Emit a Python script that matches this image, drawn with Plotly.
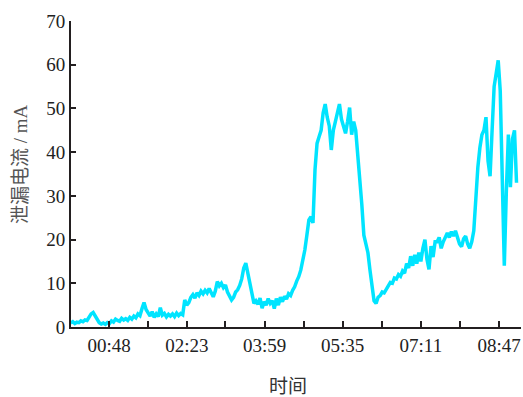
import numpy as np
import plotly.graph_objects as go

# Leakage current (mA), sampled every 2.5 minutes starting at minute 1
leak = [
    0.9, 1.2, 0.8, 1.1, 1.0, 1.4, 1.2, 1.6, 1.5, 2.2,
    3.0, 3.3, 2.4, 1.6, 1.0, 0.7, 0.9, 0.6, 1.0, 0.8,
    1.4, 1.1, 1.8, 1.5, 1.3, 2.0, 1.6, 1.9, 1.5, 2.2,
    1.8, 2.5, 2.1, 3.0, 2.6, 4.2, 5.6, 4.0, 3.2, 2.5,
    3.5, 2.2, 3.0, 2.4, 4.4, 2.7, 3.1, 2.3, 2.9, 2.5,
    3.0, 2.4, 3.2, 2.6, 3.1, 2.8, 6.2, 5.0, 5.6, 6.8,
    7.4, 6.6, 7.8, 7.2, 8.2, 7.6, 8.4, 7.8, 8.8, 7.6,
    6.9, 8.2, 10.4, 9.4, 10.0, 9.0, 9.6, 8.0, 7.0, 6.2,
    6.8, 8.0, 8.5, 9.5, 11.0, 13.5, 14.6, 12.5, 9.5, 7.5,
    5.4, 6.0, 5.2, 6.6, 4.3, 5.8, 5.0, 6.5, 5.4, 6.0,
    4.2, 6.5, 5.0, 6.8, 5.8, 7.0, 6.4, 7.6, 7.2, 8.4,
    9.2, 10.5, 11.5, 13.0, 15.0, 17.6, 21.0, 24.5, 25.2, 23.8,
    36.0, 42.0, 43.5, 45.0, 49.0, 51.0, 48.0, 46.0, 40.5, 45.0,
    47.0, 49.5, 51.0, 47.5, 45.5, 44.3, 47.0, 50.2, 44.0, 47.0,
    45.0, 40.0, 35.0, 28.0, 21.0, 18.5, 17.0, 13.0, 9.0, 6.0,
    5.4, 6.8, 7.2, 8.0, 7.8, 8.8, 9.4, 10.2, 10.0, 11.2,
    11.0, 12.0, 11.6, 12.8, 12.3, 14.5, 13.5, 16.2, 14.0, 16.5,
    14.5, 17.0, 15.0, 18.0, 20.0, 15.5, 13.2, 18.5, 16.0, 19.5,
    19.5, 20.5, 18.0, 19.5, 20.5, 21.5, 20.5, 21.8, 20.8, 22.0,
    20.5, 19.0, 18.4, 20.2, 20.8, 19.0, 18.0, 19.5, 22.0, 30.0,
    36.5, 41.0, 44.0, 45.0, 48.0, 38.0, 34.5, 45.0, 55.0, 58.0,
    61.0, 54.0, 30.0, 14.0, 31.0, 44.0, 32.0, 43.0, 45.0, 33.0,
]
minutes = 1 + 2.5 * np.arange(len(leak))

# Time axis ticks (minutes) and their clock labels
tick_minutes = [48, 95.5, 143.5, 191, 239, 287, 335, 383, 431, 479, 527]
tick_labels = ["00:48", "", "02:23", "", "03:59", "", "05:35", "", "07:11", "", "08:47"]
y_ticks = [0, 10, 20, 30, 40, 50, 60, 70]

axis_color = "#231f20"
serif = "Liberation Serif, Times New Roman, serif"
cjk = "Liberation Serif, Noto Sans CJK SC, serif"

fig = go.Figure()
fig.add_trace(go.Scatter(
    x=minutes, y=leak, mode="lines",
    line=dict(color="rgb(0,228,255)", width=3.5),
    showlegend=False, hoverinfo="skip",
))

fig.update_layout(
    width=523, height=397,
    margin=dict(l=71, r=2, t=21, b=70),
    paper_bgcolor="white", plot_bgcolor="white",
    xaxis=dict(
        range=[1.3, 554], showgrid=False, zeroline=False,
        showline=True, linecolor=axis_color, linewidth=2,
        ticks="inside", ticklen=6, tickwidth=2, tickcolor=axis_color,
        tickmode="array", tickvals=tick_minutes, ticktext=tick_labels,
        tickfont=dict(family=serif, size=19, color="#222"),
    ),
    yaxis=dict(
        range=[0, 70], showgrid=False, zeroline=False,
        showline=True, linecolor=axis_color, linewidth=2,
        ticks="inside", ticklen=5, tickwidth=2, tickcolor=axis_color,
        tickmode="array", tickvals=y_ticks,
        tickfont=dict(family=serif, size=19, color="#222"),
    ),
    annotations=[
        dict(text="泄漏电流 / mA", xref="paper", yref="paper",
             x=(20 - 71) / 450, y=(327 - 164) / 306, textangle=-90,
             showarrow=False, xanchor="center", yanchor="middle",
             font=dict(family=cjk, size=19, color="#555")),
        dict(text="时间", xref="paper", yref="paper",
             x=(288 - 71) / 450, y=(327 - 386) / 306,
             showarrow=False, xanchor="center", yanchor="middle",
             font=dict(family=cjk, size=19, color="#333")),
    ],
)

fig.write_html("out.html")
